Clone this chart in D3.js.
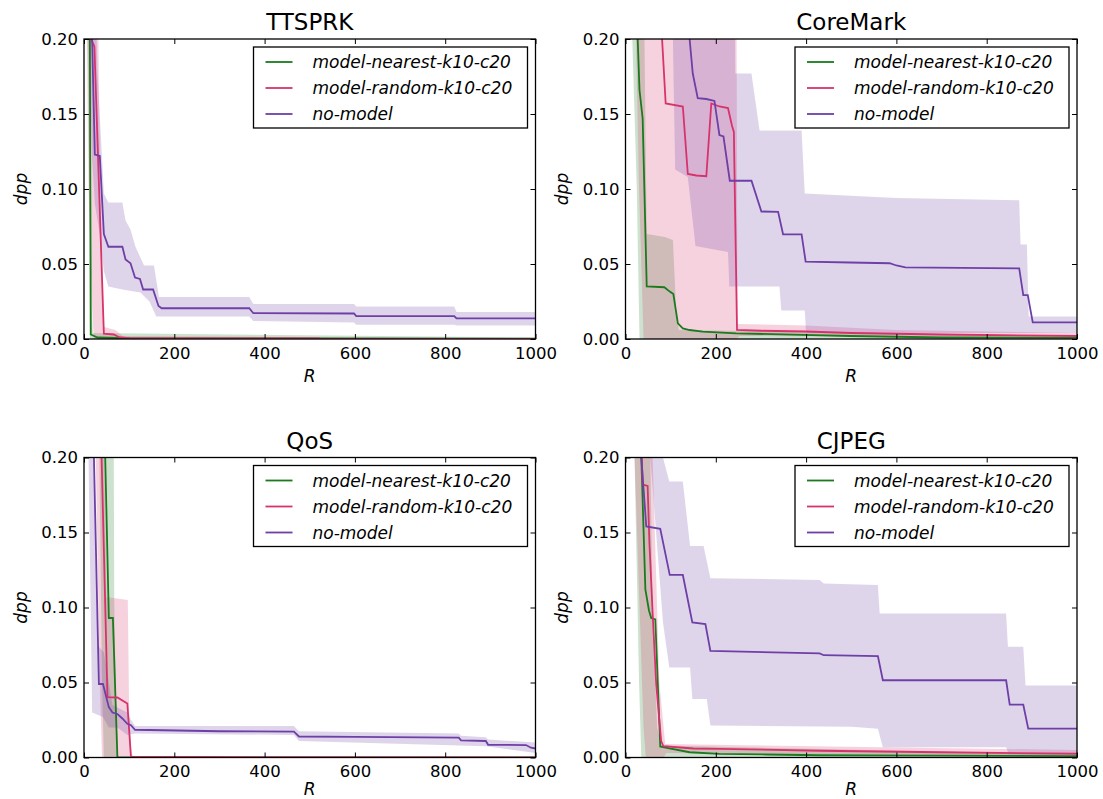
<!DOCTYPE html>
<html>
<head>
<meta charset="utf-8">
<script src="https://cdn.jsdelivr.net/npm/d3@7"></script>
<style>
  body { margin: 0; background: #fff; }
  svg text { font-family: "DejaVu Sans", sans-serif; fill: #000; }
</style>
</head>
<body>
<svg id="chart" width="1103" height="799"></svg>
<script>
// ---- values: [R, dpp] pairs ----
const xTicks = [0, 200, 400, 600, 800, 1000];
const yTicks = [0, 0.05, 0.10, 0.15, 0.20];
const seriesNames = ["model-nearest-k10-c20", "model-random-k10-c20", "no-model"];
const titles = ["TTSPRK", "CoreMark", "QoS", "CJPEG"];

// TTSPRK
const ttsNearest = [[12,0.25],[13,0.2],[15,0.003],[30,0.001],[100,0.0005],[1000,0.0003]];
const ttsNearestHi = [[8,0.3],[14,0.2],[17,0.02],[20,0.004],[1000,0.001]];
const ttsNearestLo = [[8,0.2],[12,0.1],[13,0],[1000,0]];
const ttsRandom = [[14,0.25],[15,0.2],[20,0.197],[23,0.195],[44,0.0035],[66,0.003],[78,0.0012],[100,0.0006],[520,0.0004],[525,0],[1000,0]];
const ttsRandomHi = [[10,0.3],[32,0.2],[36,0.1],[40,0.03],[44,0.008],[70,0.006],[85,0.002],[1000,0.0005]];
const ttsRandomLo = [[5,0.25],[10,0.1],[18,0.02],[22,0],[1000,0]];
const ttsNoModel = [[15,0.25],[18,0.2],[24,0.123],[35,0.122],[44,0.07],[54,0.0615],[85,0.0615],[92,0.053],[103,0.0505],[113,0.041],[124,0.04],[131,0.033],[153,0.033],[165,0.022],[172,0.0205],[366,0.0205],[375,0.0172],[598,0.017],[603,0.0153],[820,0.0153],[825,0.0137],[1000,0.0137]];
const ttsNoModelHi = [[15,0.35],[28,0.2],[30,0.177],[40,0.12],[44,0.097],[54,0.091],[85,0.091],[92,0.079],[103,0.073],[114,0.0615],[133,0.049],[155,0.049],[166,0.028],[366,0.028],[375,0.0233],[598,0.0233],[603,0.0216],[820,0.0216],[825,0.018],[1000,0.018]];
const ttsNoModelLo = [[10,0.2],[18,0.12],[24,0.09],[35,0.07],[44,0.045],[54,0.035],[85,0.033],[125,0.031],[145,0.025],[160,0.015],[366,0.015],[375,0.012],[598,0.011],[603,0.0095],[820,0.0095],[825,0.009],[1000,0.009]];

// CoreMark
const cmNearest = [[20,0.3],[27,0.2],[31,0.166],[38,0.147],[47,0.035],[86,0.0345],[98,0.0316],[106,0.03],[116,0.0104],[127,0.0071],[142,0.006],[171,0.0049],[245,0.0038],[392,0.0027],[497,0.002],[700,0.001],[1000,0.0008]];
const cmNearestHi = [[20,0.35],[42,0.2],[47,0.07],[87,0.068],[105,0.066],[112,0.02],[118,0.006],[1000,0.002]];
const cmNearestLo = [[10,0.25],[25,0.1],[31,0],[1000,0]];
const cmRandom = [[70,0.3],[81,0.2],[89,0.157],[127,0.155],[138,0.11],[157,0.109],[179,0.1085],[190,0.157],[208,0.155],[227,0.154],[236,0.142],[240,0.138],[247,0.006],[300,0.0055],[400,0.005],[500,0.004],[700,0.003],[1000,0.002]];
const cmRandomHi = [[20,0.3],[245,0.3],[248,0.01],[400,0.009],[600,0.006],[1000,0.004]];
const cmRandomLo = [[20,0.25],[30,0.1],[40,0],[247,0],[252,0.002],[1000,0.001]];
const cmNoModel = [[130,0.3],[142,0.2],[149,0.177],[160,0.1605],[179,0.16],[197,0.1587],[208,0.136],[217,0.135],[231,0.1055],[279,0.1055],[301,0.085],[338,0.0848],[349,0.0698],[390,0.0698],[399,0.0516],[497,0.051],[585,0.0505],[600,0.049],[620,0.0478],[872,0.0471],[881,0.0293],[891,0.0293],[902,0.0111],[1000,0.0111]];
const cmNoModelHi = [[90,0.35],[241,0.3],[243,0.177],[279,0.177],[297,0.139],[390,0.139],[397,0.097],[600,0.094],[872,0.0925],[875,0.063],[889,0.063],[893,0.015],[1000,0.015]];
const cmNoModelLo = [[95,0.3],[105,0.2],[110,0.113],[138,0.108],[155,0.062],[227,0.058],[230,0.035],[341,0.035],[345,0.019],[397,0.019],[400,0.004],[1000,0.004]];

// QoS
const qosNearest = [[40,0.3],[47,0.2],[55,0.093],[64,0.093],[74,0],[1000,0]];
const qosNearestHi = [[40,0.35],[66,0.2],[67,0.105],[70,0.05],[75,0],[1000,0]];
const qosNearestLo = [[30,0.3],[40,0.05],[44,0],[1000,0]];
const qosRandom = [[30,0.3],[39,0.2],[52,0.0403],[74,0.04],[96,0.036],[104,0.0005],[400,0.0003],[1000,0]];
const qosRandomHi = [[30,0.3],[45,0.2],[50,0.107],[97,0.105],[100,0.03],[105,0.003],[110,0],[1000,0]];
const qosRandomLo = [[20,0.3],[35,0.05],[40,0],[1000,0]];
const qosNoModel = [[15,0.3],[22,0.2],[33,0.049],[42,0.049],[55,0.0336],[63,0.03],[74,0.029],[85,0.026],[96,0.0225],[104,0.0215],[113,0.0185],[300,0.0175],[465,0.0172],[476,0.014],[600,0.0137],[830,0.0132],[835,0.0114],[890,0.011],[895,0.0085],[979,0.0083],[990,0.0065],[1000,0.006]];
const qosNoModelHi = [[10,0.3],[22,0.2],[30,0.075],[44,0.07],[55,0.05],[63,0.035],[96,0.03],[104,0.025],[113,0.021],[465,0.021],[476,0.0175],[830,0.016],[835,0.0145],[890,0.0135],[895,0.012],[1000,0.01]];
const qosNoModelLo = [[10,0.2],[18,0.03],[42,0.027],[55,0.02],[74,0.02],[96,0.015],[113,0.016],[465,0.015],[476,0.011],[890,0.0075],[1000,0.003]];

// CJPEG
const cjNearest = [[33,0.3],[35,0.2],[37,0.181],[44,0.112],[52,0.098],[57,0.093],[66,0.092],[77,0.0074],[86,0.0068],[142,0.0035],[208,0.0024],[312,0.002],[430,0.0015],[700,0.0012],[1000,0.0009]];
const cjNearestHi = [[20,0.3],[55,0.2],[60,0.1],[70,0.02],[80,0.008],[1000,0.002]];
const cjNearestLo = [[20,0.2],[30,0.05],[35,0],[1000,0]];
const cjRandom = [[30,0.3],[36,0.2],[38,0.182],[49,0.181],[53,0.143],[60,0.097],[68,0.049],[79,0.011],[84,0.0075],[150,0.006],[208,0.0058],[430,0.0045],[700,0.0035],[1000,0.0025]];
const cjRandomHi = [[20,0.3],[60,0.2],[75,0.05],[88,0.009],[1000,0.005]];
const cjRandomLo = [[20,0.2],[40,0.02],[45,0],[85,0],[90,0.003],[1000,0.001]];
const cjNoModel = [[30,0.3],[35,0.2],[46,0.154],[77,0.1525],[98,0.1217],[127,0.1217],[148,0.09],[177,0.089],[188,0.0711],[430,0.0694],[439,0.0682],[559,0.0676],[570,0.0515],[843,0.0515],[851,0.0352],[881,0.0352],[892,0.0192],[1000,0.0192]];
const cjNoModelHi = [[40,0.3],[83,0.2],[97,0.184],[127,0.184],[143,0.141],[173,0.141],[188,0.1195],[430,0.1184],[439,0.116],[559,0.115],[563,0.096],[843,0.096],[847,0.0738],[881,0.0738],[886,0.048],[1000,0.048]];
const cjNoModelLo = [[30,0.3],[55,0.2],[83,0.09],[97,0.06],[143,0.06],[148,0.039],[180,0.039],[188,0.0214],[500,0.0205],[559,0.0192],[570,0.0069],[843,0.0069],[849,0.002],[1000,0.002]];

const colors = ["#1b7a1e", "#d6336c", "#6e3fa6"];

const panels = [
  { title: titles[0], left: 84, top: 39, rGap: 43, lines: [ttsNearest, ttsRandom, ttsNoModel], hi: [ttsNearestHi, ttsRandomHi, ttsNoModelHi], lo: [ttsNearestLo, ttsRandomLo, ttsNoModelLo] },
  { title: titles[1], left: 625.5, top: 39, rGap: 43, lines: [cmNearest, cmRandom, cmNoModel], hi: [cmNearestHi, cmRandomHi, cmNoModelHi], lo: [cmNearestLo, cmRandomLo, cmNoModelLo] },
  { title: titles[2], left: 84, top: 457.5, rGap: 37, lines: [qosNearest, qosRandom, qosNoModel], hi: [qosNearestHi, qosRandomHi, qosNoModelHi], lo: [qosNearestLo, qosRandomLo, qosNoModelLo] },
  { title: titles[3], left: 625.5, top: 457.5, rGap: 37, lines: [cjNearest, cjRandom, cjNoModel], hi: [cjNearestHi, cjRandomHi, cjNoModelHi], lo: [cjNearestLo, cjRandomLo, cjNoModelLo] }
];

const W = 451.5, H = 300;
const svg = d3.select("#chart");

panels.forEach((p, pi) => {
  const g = svg.append("g").attr("transform", `translate(${p.left},${p.top})`);
  const x = d3.scaleLinear().domain([0, 1000]).range([0, W]);
  const y = d3.scaleLinear().domain([0, 0.2]).range([H, 0]);

  g.append("clipPath").attr("id", "clip" + pi)
    .append("rect").attr("width", W).attr("height", H);

  const plot = g.append("g").attr("clip-path", `url(#clip${pi})`);
  const line = d3.line().x(d => x(d[0])).y(d => y(d[1]));

  // shaded bands (upper edge forwards, lower edge backwards)
  p.hi.forEach((hi, i) => {
    const poly = hi.concat(p.lo[i].slice().reverse());
    plot.append("path")
      .attr("d", line(poly) + "Z")
      .attr("fill", colors[i])
      .attr("fill-opacity", 0.22)
      .attr("stroke", "none");
  });

  p.lines.forEach((d, i) => {
    plot.append("path")
      .datum(d)
      .attr("d", line)
      .attr("fill", "none")
      .attr("stroke", colors[i])
      .attr("stroke-width", 1.8);
  });

  // axes, ticks pointing inwards
  const fmtY = d3.format(".2f");
  const axB = g.append("g").attr("transform", `translate(0,${H})`)
    .call(d3.axisBottom(x).tickValues(xTicks).tickSize(-5).tickPadding(8).tickFormat(d3.format("d")));
  g.append("g").call(d3.axisTop(x).tickValues(xTicks).tickSize(-5).tickFormat(""));
  const axL = g.append("g")
    .call(d3.axisLeft(y).tickValues(yTicks).tickSize(-5).tickPadding(6).tickFormat(fmtY));
  g.append("g").attr("transform", `translate(${W},0)`)
    .call(d3.axisRight(y).tickValues(yTicks).tickSize(-5).tickFormat(""));

  g.selectAll(".domain").remove();
  g.selectAll(".tick line").attr("stroke", "#000").attr("stroke-width", 1);
  [axB, axL].forEach(a => a.selectAll("text")
    .attr("font-size", 16.5)
    .style("font-family", '"DejaVu Sans", sans-serif')
    .attr("fill", "#000"));

  g.append("rect")
    .attr("width", W).attr("height", H)
    .attr("fill", "none").attr("stroke", "#000").attr("stroke-width", 1.3);

  // labels
  g.append("text")
    .attr("x", W / 2).attr("y", -9)
    .attr("text-anchor", "middle")
    .attr("font-size", 23)
    .text(p.title);

  g.append("text")
    .attr("x", W / 2).attr("y", H + p.rGap)
    .attr("text-anchor", "middle")
    .attr("font-size", 17)
    .attr("font-style", "italic")
    .text("R");

  g.append("text")
    .attr("transform", `translate(-57.5,${H / 2}) rotate(-90)`)
    .attr("text-anchor", "middle")
    .attr("font-size", 17)
    .attr("font-style", "italic")
    .text("dpp");

  // legend
  const lg = g.append("g").attr("transform", `translate(${W - 8 - 274},8)`);
  lg.append("rect")
    .attr("width", 274).attr("height", 81)
    .attr("fill", "#fff").attr("stroke", "#000").attr("stroke-width", 1.3);
  seriesNames.forEach((name, i) => {
    const ly = 15 + i * 26;
    lg.append("line")
      .attr("x1", 12).attr("x2", 39)
      .attr("y1", ly).attr("y2", ly)
      .attr("stroke", colors[i]).attr("stroke-width", 1.8);
    lg.append("text")
      .attr("x", 59).attr("y", ly)
      .attr("dy", "0.36em")
      .attr("font-size", 17)
      .attr("font-style", "italic")
      .text(name);
  });
});
</script>
</body>
</html>
